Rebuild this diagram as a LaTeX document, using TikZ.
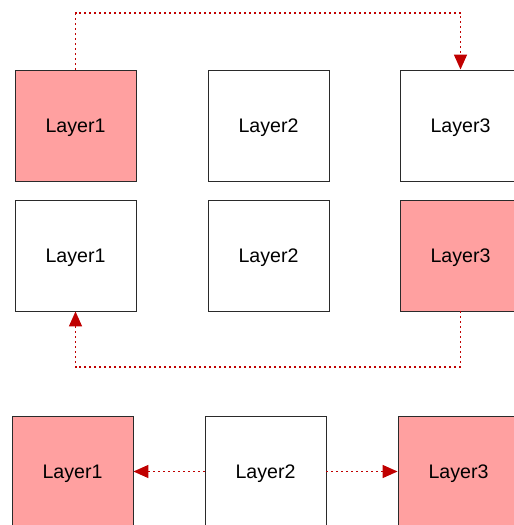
\documentclass[tikz,border=0pt]{standalone}
\usepackage{fontspec}
\setmainfont{Liberation Sans}
\usetikzlibrary{arrows.meta}
\definecolor{hl}{HTML}{FFA0A0}
\definecolor{edge}{HTML}{2A2A2A}
\definecolor{conncol}{HTML}{C00000}
\tikzset{
  layer/.style={draw=edge, line width=0.9bp, minimum width=121bp, minimum height=111bp,
    inner sep=0pt, text depth=0pt, font=\fontsize{19.6bp}{23bp}\selectfont, text=black, fill=white},
  hot/.style={layer, fill=hl},
  conn/.style={draw=conncol, line width=1.5bp, dash pattern=on 2bp off 3bp,
    -{Triangle[length=15bp,width=13bp,fill=conncol]}}
}
\begin{document}
\begin{tikzpicture}[x=1bp,y=-1bp]
\useasboundingbox (0,0) rectangle (514,525);
\clip (0,0) rectangle (514,525);
% row 1
\node[hot]   (a1) at (75.5,125.5) {Layer1};
\node[layer] (b1) at (268.5,125.5) {Layer2};
\node[layer] (c1) at (460.5,125.5) {Layer3};
% row 2
\node[layer] (a2) at (75.5,255.5) {Layer1};
\node[layer] (b2) at (268.5,255.5) {Layer2};
\node[hot]   (c2) at (460.5,255.5) {Layer3};
% row 3
\node[hot]   (a3) at (72.5,471.5) {Layer1};
\node[layer] (b3) at (265.5,471.5) {Layer2};
\node[hot]   (c3) at (458.5,471.5) {Layer3};
% routing coordinates
\coordinate (top) at (0,13);
\coordinate (low) at (0,367);
% connectors
\draw[conn] (a1.north) -- (a1.north |- top) -- (c1.north |- top) -- (c1.north);
\draw[conn] (c2.south) -- (c2.south |- low) -- (a2.south |- low) -- (a2.south);
\draw[conn] (b3.west) -- (a3.east);
\draw[conn] (b3.east) -- (c3.west);
\end{tikzpicture}
\end{document}
